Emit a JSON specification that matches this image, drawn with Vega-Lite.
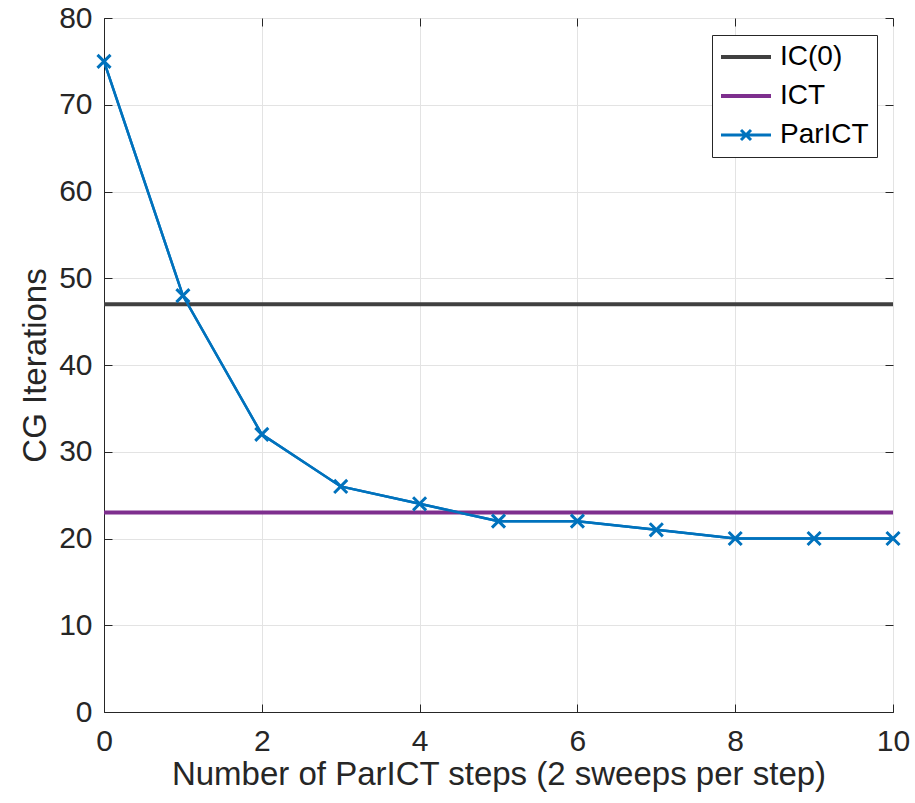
{
  "$schema": "https://vega.github.io/schema/vega-lite/v6.json",
  "width": 789,
  "height": 694,
  "autosize": {"type": "none"},
  "padding": {"left": 104, "top": 18, "right": 22, "bottom": 91},
  "background": "white",
  "config": {
    "view": {"stroke": "#262626", "strokeWidth": 1},
    "font": "Liberation Sans",
    "axis": {
      "labelFont": "Liberation Sans",
      "labelFontSize": 30,
      "labelColor": "#262626",
      "titleFont": "Liberation Sans",
      "titleFontSize": 33,
      "titleFontWeight": "normal",
      "titleColor": "#262626",
      "domainColor": "#262626",
      "domainWidth": 1,
      "ticks": true,
      "tickSize": -8,
      "tickColor": "#262626",
      "tickWidth": 1,
      "gridColor": "#e3e3e3",
      "gridWidth": 1
    }
  },
  "resolve": {"axis": {"x": "independent", "y": "independent"}},
  "datasets": {
    "flat": [
      {"series": "IC(0)", "iters": 47},
      {"series": "ICT", "iters": 23}
    ],
    "par": [
      {"step": 0, "iters": 75, "series": "ParICT"},
      {"step": 1, "iters": 48, "series": "ParICT"},
      {"step": 2, "iters": 32, "series": "ParICT"},
      {"step": 3, "iters": 26, "series": "ParICT"},
      {"step": 4, "iters": 24, "series": "ParICT"},
      {"step": 5, "iters": 22, "series": "ParICT"},
      {"step": 6, "iters": 22, "series": "ParICT"},
      {"step": 7, "iters": 21, "series": "ParICT"},
      {"step": 8, "iters": 20, "series": "ParICT"},
      {"step": 9, "iters": 20, "series": "ParICT"},
      {"step": 10, "iters": 20, "series": "ParICT"}
    ]
  },
  "layer": [
    {
      "data": {"name": "par"},
      "mark": {"type": "line", "strokeWidth": 2.5},
      "encoding": {
        "x": {
          "field": "step",
          "type": "quantitative",
          "scale": {"domain": [0, 10], "nice": false},
          "axis": {
            "values": [0, 2, 4, 6, 8, 10],
            "format": "d",
            "title": "Number of ParICT steps (2 sweeps per step)",
            "labelPadding": 22,
            "titlePadding": 2,
            "labelFlush": false
          }
        },
        "y": {
          "field": "iters",
          "type": "quantitative",
          "scale": {"domain": [0, 80], "nice": false},
          "axis": {
            "values": [0, 10, 20, 30, 40, 50, 60, 70, 80],
            "format": "d",
            "title": "CG Iterations",
            "labelPadding": 20,
            "titlePadding": 6,
            "labelFlush": false
          }
        },
        "color": {
          "field": "series",
          "type": "nominal",
          "scale": {
            "domain": ["IC(0)", "ICT", "ParICT"],
            "range": ["#404040", "#7E2F8E", "#0072BD"]
          },
          "legend": {
            "title": null,
            "orient": "none",
            "legendX": 608,
            "legendY": 17,
            "symbolSize": 625,
            "symbolType": "M-1.04,0H2.96",
            "symbolStrokeWidth": 4,
            "labelFont": "Liberation Sans",
            "labelFontSize": 28,
            "labelColor": "#000000",
            "labelOffset": 32,
            "rowPadding": 11,
            "padding": 8,
            "strokeColor": "#262626",
            "fillColor": "white",
            "encode": {
              "symbols": {
                "update": {
                  "shape": {"signal": "datum.value === 'ParICT' ? 'M-1.04,0H2.96M0.56,-0.4L1.36,0.4M0.56,0.4L1.36,-0.4' : 'M-1.04,0H2.96'"},
                  "strokeWidth": {"signal": "datum.value === 'ParICT' ? 3 : 4"},
                  "fill": {"value": "transparent"}
                }
              }
            }
          }
        }
      }
    },
    {
      "data": {"name": "flat"},
      "mark": {"type": "rule", "strokeWidth": 4},
      "encoding": {
        "y": {"field": "iters", "type": "quantitative", "axis": null},
        "color": {"field": "series", "type": "nominal"}
      }
    },
    {
      "data": {"name": "par"},
      "mark": {"type": "line", "strokeWidth": 2.5, "color": "#0072BD"},
      "encoding": {
        "x": {
          "field": "step",
          "type": "quantitative",
          "axis": {"orient": "top", "values": [0, 2, 4, 6, 8, 10], "labels": false, "grid": false, "title": null, "domain": false}
        },
        "y": {
          "field": "iters",
          "type": "quantitative",
          "axis": {"orient": "right", "values": [0, 10, 20, 30, 40, 50, 60, 70, 80], "labels": false, "grid": false, "title": null, "domain": false}
        }
      }
    },
    {
      "data": {"name": "par"},
      "mark": {
        "type": "point",
        "shape": "M-1,-1L1,1M-1,1L1,-1",
        "size": 170,
        "filled": false,
        "strokeWidth": 3,
        "opacity": 1,
        "color": "#0072BD"
      },
      "encoding": {
        "x": {"field": "step", "type": "quantitative", "axis": null},
        "y": {"field": "iters", "type": "quantitative", "axis": null}
      }
    }
  ]
}
